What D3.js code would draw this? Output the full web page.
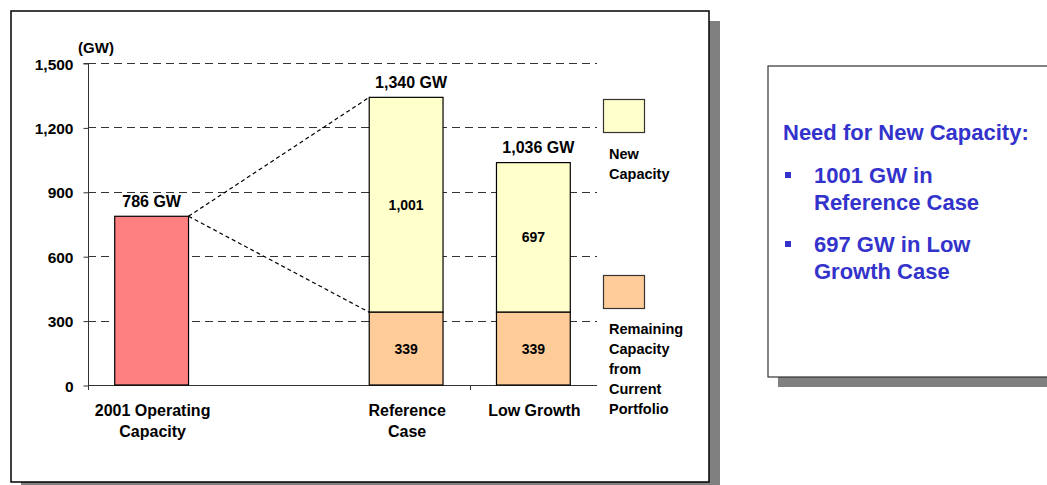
<!DOCTYPE html>
<html>
<head>
<meta charset="utf-8">
<script src="https://cdn.jsdelivr.net/npm/d3@7"></script>
<style>
  html, body { margin: 0; padding: 0; background: #fff; }
  svg { display: block; font-family: "Liberation Sans", Arial, sans-serif; font-weight: bold; }
</style>
</head>
<body>
<svg id="chart" width="1047" height="485"></svg>
<script>
// Category slots (the second slot is an empty spacer between history and projections)
const categories = ["2001", "spacer", "reference", "lowGrowth"];
const categoryLabels = [["2001 Operating", "Capacity"], [], ["Reference", "Case"], ["Low Growth"]];

// Series values in GW
const operatingCapacity = [786, null, null, null];
const remainingCapacity = [null, null, 339, 339];
const newCapacity = [null, null, 1001, 697];

// Axis ticks
const yTicks = [0, 300, 600, 900, 1200, 1500];

// Legend and side-panel text
const legendItems = [
  { key: "new", lines: ["New", "Capacity"] },
  { key: "remaining", lines: ["Remaining", "Capacity", "from", "Current", "Portfolio"] }
];
const panelTitle = "Need for New Capacity:";
const panelBullets = [["1001 GW in", "Reference Case"], ["697 GW in Low", "Growth Case"]];

const colors = { operating: "#FF8080", new: "#FFFFCC", remaining: "#FFCC99", panelText: "#3333CC", shadow: "#808080" };

const svg = d3.select("#chart");
const fmt = d3.format(",");

// Framed chart area with drop shadow
svg.append("rect").attr("x", 21).attr("y", 21).attr("width", 699).attr("height", 475).attr("fill", colors.shadow);
svg.append("rect").attr("x", 11).attr("y", 11).attr("width", 698).attr("height", 471)
  .attr("fill", "#fff").attr("stroke", "#000").attr("stroke-width", 1.5);

// Side panel with drop shadow
svg.append("rect").attr("x", 778).attr("y", 76).attr("width", 300).attr("height", 311).attr("fill", colors.shadow);
svg.append("rect").attr("x", 768).attr("y", 66).attr("width", 300).attr("height", 311)
  .attr("fill", "#fff").attr("stroke", "#333").attr("stroke-width", 1.2);

// Scales
const x = d3.scaleBand().domain(categories).range([88, 597]).paddingInner(0.42).paddingOuter(0.21);
const y = d3.scaleLinear().domain([0, 1500]).range([385, 63]);

const plot = svg.append("g");

// Dashed gridlines
plot.selectAll("line.grid").data(yTicks.filter(d => d > 0)).join("line")
  .attr("class", "grid")
  .attr("x1", 88).attr("x2", 597)
  .attr("y1", d => Math.round(y(d)) + 0.5).attr("y2", d => Math.round(y(d)) + 0.5)
  .attr("stroke", "#333").attr("stroke-width", 1).attr("stroke-dasharray", "8,5");

// Y axis
const yAxis = d3.axisLeft(y).tickValues(yTicks).tickSize(5).tickFormat(fmt);
const yg = plot.append("g").attr("transform", "translate(88.5,0.5)").call(yAxis);
yg.select(".domain").attr("stroke", "#333").attr("d", `M-5,${y(1500)}H0V${y(0)}`);
yg.selectAll(".tick line").attr("stroke", "#333");
yg.selectAll(".tick text").attr("x", -15).attr("dy", "0.36em")
  .style("font-size", "15.5px").style("font-weight", "bold").style("font-family", "'Liberation Sans', Arial, sans-serif").attr("fill", "#000");

// X axis baseline with category-group ticks
const xg = plot.append("g");
xg.append("line").attr("x1", 88).attr("x2", 597).attr("y1", y(0) + 0.5).attr("y2", y(0) + 0.5).attr("stroke", "#333");
const boundaryTicks = [categories[0], categories[3]].map(c => x(c) - x.step() * x.paddingInner() / 2);
boundaryTicks[0] = x.range()[0];
xg.selectAll("line.xt").data(boundaryTicks).join("line")
  .attr("class", "xt")
  .attr("x1", d => Math.round(d) + 0.5).attr("x2", d => Math.round(d) + 0.5)
  .attr("y1", y(0)).attr("y2", y(0) + 5).attr("stroke", "#333");

// "(GW)" unit label
svg.append("text").attr("x", 96).attr("y", 53).attr("text-anchor", "middle")
  .style("font-size", "15px").text("(GW)");

// Connector lines from 2001 bar to the Reference Case stack
const bar0Right = x(categories[0]) + x.bandwidth();
const bar2Left = x(categories[2]);
[remainingCapacity[2] + newCapacity[2], remainingCapacity[2]].forEach(v => {
  plot.append("line")
    .attr("x1", bar0Right).attr("y1", y(operatingCapacity[0]))
    .attr("x2", bar2Left).attr("y2", y(v))
    .attr("stroke", "#000").attr("stroke-width", 1.2).attr("stroke-dasharray", "4,3");
});

// Bars
const bars = plot.append("g");
categories.forEach((c, i) => {
  const x0 = x(c), w = x.bandwidth();
  if (operatingCapacity[i] != null) {
    bars.append("rect").attr("x", x0).attr("y", y(operatingCapacity[i]))
      .attr("width", w).attr("height", y(0) - y(operatingCapacity[i]))
      .attr("fill", colors.operating).attr("stroke", "#000").attr("stroke-width", 1.2);
  }
  if (remainingCapacity[i] != null) {
    const base = remainingCapacity[i], top = base + newCapacity[i];
    bars.append("rect").attr("x", x0).attr("y", y(top))
      .attr("width", w).attr("height", y(base) - y(top))
      .attr("fill", colors.new).attr("stroke", "#000").attr("stroke-width", 1.2);
    bars.append("rect").attr("x", x0).attr("y", y(base))
      .attr("width", w).attr("height", y(0) - y(base))
      .attr("fill", colors.remaining).attr("stroke", "#000").attr("stroke-width", 1.2);
    // Segment values
    bars.append("text").attr("x", x0 + w / 2).attr("y", y(base / 2)).attr("dy", "0.36em")
      .attr("text-anchor", "middle").style("font-size", "14px").text(fmt(base));
    bars.append("text").attr("x", x0 + w / 2).attr("y", y(base + newCapacity[i] / 2)).attr("dy", "0.36em")
      .attr("text-anchor", "middle").style("font-size", "14px").text(fmt(newCapacity[i]));
  }
});

// Total labels above each bar
categories.forEach((c, i) => {
  const total = operatingCapacity[i] != null ? operatingCapacity[i]
    : (remainingCapacity[i] != null ? remainingCapacity[i] + newCapacity[i] : null);
  if (total == null) return;
  const shift = i === 0 ? 0 : 5;
  svg.append("text").attr("x", x(c) + x.bandwidth() / 2 + shift).attr("y", y(total) - 15)
    .attr("dy", "0.36em").attr("text-anchor", "middle").style("font-size", "16px")
    .text(`${fmt(total)} GW`);
});

// Category labels
categories.forEach((c, i) => {
  categoryLabels[i].forEach((line, j) => {
    svg.append("text").attr("x", x(c) + x.bandwidth() / 2 + 1).attr("y", 410 + j * 21)
      .attr("dy", "0.36em").attr("text-anchor", "middle").style("font-size", "16px").text(line);
  });
});

// Legend
const legendPos = [{ sy: 99, ty: 154 }, { sy: 275, ty: 329 }];
legendItems.forEach((item, k) => {
  svg.append("rect").attr("x", 603.5).attr("y", legendPos[k].sy + 0.5).attr("width", 41).attr("height", 33)
    .attr("fill", colors[item.key]).attr("stroke", "#333").attr("stroke-width", 1.2);
  item.lines.forEach((line, j) => {
    svg.append("text").attr("x", 609).attr("y", legendPos[k].ty + j * 20).attr("dy", "0.36em")
      .style("font-size", "14.5px").text(line);
  });
});

// Side panel text
svg.append("text").attr("x", 783).attr("y", 132).attr("dy", "0.36em")
  .attr("fill", colors.panelText).style("font-size", "22px").text(panelTitle);
panelBullets.forEach((lines, k) => {
  const cy = 175 + k * 69;
  svg.append("rect").attr("x", 785).attr("y", cy - 3).attr("width", 6).attr("height", 6).attr("fill", colors.panelText);
  lines.forEach((line, j) => {
    svg.append("text").attr("x", 814).attr("y", cy + j * 27).attr("dy", "0.36em")
      .attr("fill", colors.panelText).style("font-size", "22px").text(line);
  });
});
</script>
</body>
</html>
